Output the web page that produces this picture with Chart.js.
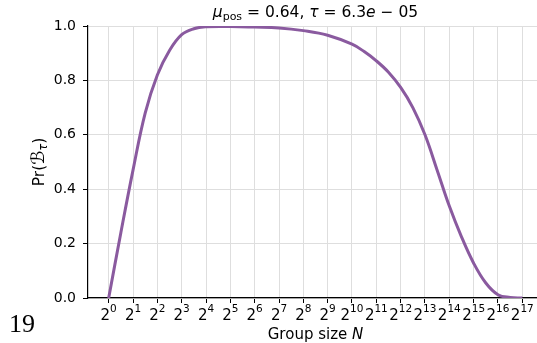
<!DOCTYPE html>
<html>
<head>
<meta charset="utf-8">
<script src="https://cdn.jsdelivr.net/npm/chart.js@4"></script>
<style>
  html, body { margin: 0; padding: 0; overflow: hidden; background: #fff; }
  canvas { display: block; }
</style>
</head>
<body>
<canvas id="chart" width="543" height="343"></canvas>
<script>
// log2 of group size N
const logN = [0, 0.5, 1, 1.5, 2, 2.5, 3, 3.5, 4, 5, 6, 7, 8, 9, 10, 10.5, 11, 11.5, 12, 12.5, 13, 13.5, 14, 14.5, 15, 15.5, 16, 16.5, 17];
// Pr(B_tau)
const prob = [0, 0.24, 0.47, 0.68, 0.82, 0.91, 0.968, 0.99, 0.997, 0.998, 0.996, 0.993, 0.983, 0.966, 0.933, 0.906, 0.872, 0.83, 0.774, 0.70, 0.60, 0.47, 0.338, 0.225, 0.128, 0.055, 0.012, 0.002, 0];
const xTickPowers = [0, 1, 2, 3, 4, 5, 6, 7, 8, 9, 10, 11, 12, 13, 14, 15, 16, 17];
const yTicks = [0, 0.2, 0.4, 0.6, 0.8, 1.0];

const lineColor = '#8a5a9f';
const gridColor = '#dedede';
const FONT = '"DejaVu Sans", sans-serif';

// draws a run of text pieces: [text, size, italic, dy]
function drawPieces(ctx, pieces, x, y, align) {
  let total = 0;
  pieces.forEach(p => {
    ctx.font = (p[2] ? 'italic ' : '') + p[1] + 'px ' + FONT;
    total += ctx.measureText(p[0]).width;
  });
  let cx = align === 'center' ? x - total / 2 : x;
  ctx.textAlign = 'left';
  ctx.textBaseline = 'alphabetic';
  pieces.forEach(p => {
    ctx.font = (p[2] ? 'italic ' : '') + p[1] + 'px ' + FONT;
    ctx.fillText(p[0], cx, y + (p[3] || 0));
    cx += ctx.measureText(p[0]).width;
  });
}

const textPlugin = {
  id: 'texts',
  afterDraw(chart) {
    const ctx = chart.ctx;
    const area = chart.chartArea;
    const xs = chart.scales.x;
    const cx = (area.left + area.right) / 2;
    ctx.save();
    ctx.fillStyle = '#000';

    // title
    drawPieces(ctx, [
      ['μ', 15.5, true], ['pos', 11, false, 3], [' = 0.64, ', 15.5, false],
      ['τ', 15.5, true], [' = 6.3', 15.5, false], ['e', 15.5, true], [' − 05', 15.5, false]
    ], cx, 17, 'center');

    // x tick labels 2^k
    xTickPowers.forEach(k => {
      const px = xs.getPixelForValue(k);
      drawPieces(ctx, [['2', 15, false], [String(k), 10.5, false, -8]], px, 320, 'center');
    });

    // x axis label
    drawPieces(ctx, [['Group size ', 15, false], ['N', 15, true]], cx, 339, 'center');

    // y axis label
    ctx.save();
    ctx.translate(44, (area.top + area.bottom) / 2);
    ctx.rotate(-Math.PI / 2);
    drawPieces(ctx, [['Pr', 15.5, false], ['(', 15.5, false], ['ℬ', 18, true], ['τ', 11.5, true, 3], [')', 15.5, false]], 0, 0, 'center');
    ctx.restore();

    // stray page number
    ctx.font = '26px "Liberation Serif", serif';
    ctx.textAlign = 'left';
    ctx.fillText('19', 9, 332);
    ctx.restore();
  }
};

new Chart(document.getElementById('chart'), {
  type: 'line',
  data: {
    datasets: [{
      data: logN.map((v, i) => ({ x: v, y: prob[i] })),
      borderColor: lineColor,
      borderWidth: 3,
      pointRadius: 0,
      tension: 0.4,
      fill: false
    }]
  },
  options: {
    responsive: false,
    devicePixelRatio: 1,
    animation: false,
    layout: { padding: { top: 26, left: 0, right: 0, bottom: 0 } },
    plugins: { legend: { display: false }, tooltip: { enabled: false } },
    scales: {
      x: {
        type: 'linear',
        min: -0.85,
        max: 17.85,
        afterBuildTicks: s => { s.ticks = xTickPowers.map(v => ({ value: v })); },
        afterFit: s => { s.height = 45; },
        ticks: { callback: () => '', padding: 0 },
        grid: { color: gridColor, lineWidth: 1, tickColor: '#000', tickLength: 5 },
        border: { display: true, color: '#000', width: 1.2 }
      },
      y: {
        min: 0,
        max: 1,
        afterBuildTicks: s => { s.ticks = yTicks.map(v => ({ value: v })); },
        afterFit: s => { s.width = 88; },
        ticks: {
          callback: v => v.toFixed(1),
          color: '#000',
          padding: 7,
          font: { family: FONT, size: 14 }
        },
        grid: { color: gridColor, lineWidth: 1, tickColor: '#000', tickLength: 5 },
        border: { display: true, color: '#000', width: 1.2 }
      }
    }
  },
  plugins: [textPlugin]
});
</script>
</body>
</html>
